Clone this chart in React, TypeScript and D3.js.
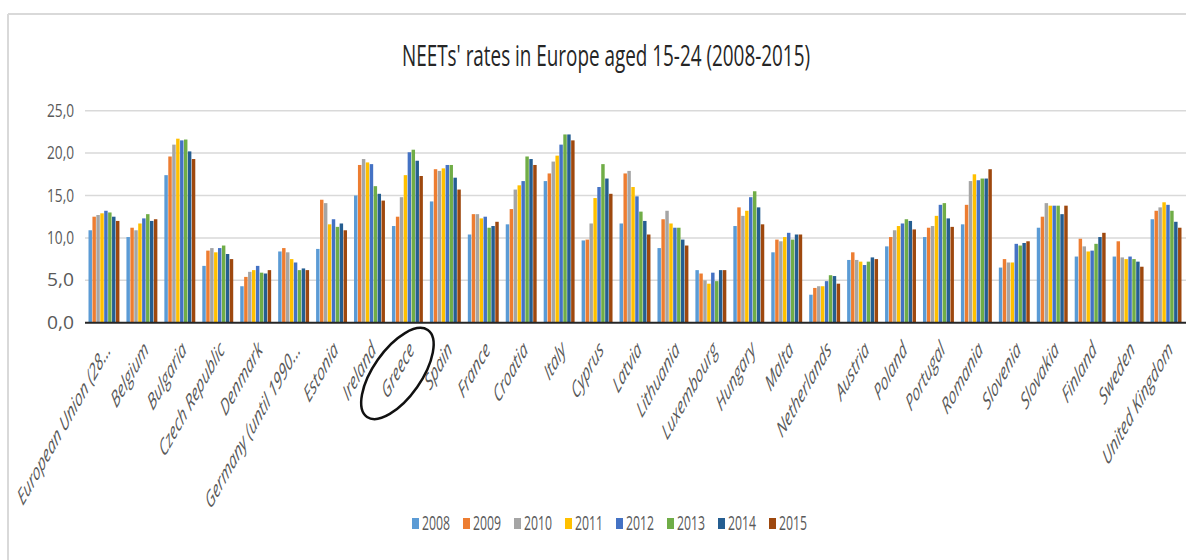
import React from 'react';
import * as d3 from 'd3';

// NEET rates, 15-24
const countries = ['European Union (28...', 'Belgium', 'Bulgaria', 'Czech Republic', 'Denmark', 'Germany (until 1990...',
  'Estonia', 'Ireland', 'Greece', 'Spain', 'France', 'Croatia', 'Italy', 'Cyprus', 'Latvia', 'Lithuania',
  'Luxembourg', 'Hungary', 'Malta', 'Netherlands', 'Austria', 'Poland', 'Portugal', 'Romania', 'Slovenia',
  'Slovakia', 'Finland', 'Sweden', 'United Kingdom'];

const years = ['2008', '2009', '2010', '2011', '2012', '2013', '2014', '2015'];

const v2008 = [10.9, 10.1, 17.4, 6.7, 4.3, 8.4, 8.7, 15.0, 11.4, 14.3, 10.4, 11.6, 16.7, 9.7, 11.7, 8.8, 6.2, 11.4, 8.3, 3.3, 7.4, 9.0, 10.1, 11.6, 6.5, 11.2, 7.8, 7.8, 12.2];
const v2009 = [12.5, 11.2, 19.6, 8.5, 5.4, 8.8, 14.5, 18.6, 12.5, 18.1, 12.8, 13.4, 17.6, 9.8, 17.6, 12.2, 5.8, 13.6, 9.8, 4.1, 8.3, 10.1, 11.2, 13.9, 7.5, 12.5, 9.9, 9.6, 13.2];
const v2010 = [12.7, 10.9, 21.0, 8.8, 6.0, 8.3, 14.1, 19.3, 14.8, 17.9, 12.8, 15.7, 19.0, 11.7, 17.9, 13.2, 5.0, 12.6, 9.6, 4.3, 7.4, 10.9, 11.4, 16.7, 7.1, 14.1, 9.0, 7.7, 13.6];
const v2011 = [12.9, 11.7, 21.7, 8.3, 6.2, 7.5, 11.6, 18.9, 17.4, 18.2, 12.3, 16.2, 19.7, 14.7, 16.0, 11.7, 4.6, 13.2, 10.1, 4.3, 7.2, 11.4, 12.6, 17.5, 7.1, 13.8, 8.4, 7.5, 14.2];
const v2012 = [13.2, 12.3, 21.5, 8.8, 6.7, 7.1, 12.2, 18.7, 20.1, 18.6, 12.5, 16.7, 21.0, 16.0, 14.9, 11.2, 5.9, 14.8, 10.6, 4.9, 6.8, 11.7, 13.9, 16.8, 9.3, 13.8, 8.5, 7.8, 13.9];
const v2013 = [13.0, 12.8, 21.6, 9.1, 5.9, 6.2, 11.3, 16.1, 20.4, 18.6, 11.2, 19.6, 22.2, 18.7, 13.1, 11.2, 4.9, 15.5, 9.8, 5.6, 7.2, 12.2, 14.1, 17.0, 9.1, 13.8, 9.3, 7.5, 13.2];
const v2014 = [12.5, 12.0, 20.2, 8.1, 5.8, 6.4, 11.7, 15.2, 19.1, 17.1, 11.4, 19.3, 22.2, 17.0, 12.0, 9.8, 6.2, 13.6, 10.4, 5.5, 7.7, 12.0, 12.3, 17.0, 9.4, 12.8, 10.1, 7.2, 11.9];
const v2015 = [12.0, 12.2, 19.3, 7.5, 6.2, 6.2, 10.9, 14.4, 17.3, 15.7, 11.9, 18.6, 21.5, 15.2, 10.4, 9.1, 6.2, 11.6, 10.4, 4.6, 7.5, 11.0, 11.3, 18.1, 9.6, 13.8, 10.6, 6.6, 11.2];

const series = [v2008, v2009, v2010, v2011, v2012, v2013, v2014, v2015];
const colors = ['#5B9BD5', '#ED7D31', '#A5A5A5', '#FFC000', '#4472C4', '#70AD47', '#255E91', '#9E480E'];
const yTicks = [0, 5, 10, 15, 20, 25];

const W = 1186, H = 560;
const left = 85, right = 1185, top = 110.7, bottom = 322.7;
const font = '"Open Sans", "DejaVu Sans", sans-serif';
const grey = '#595959';

export default function App() {
  const x = d3.scaleBand().domain(countries).range([left, right]).paddingInner(0.16).paddingOuter(0.08);
  const xi = d3.scaleBand().domain(years).range([0, x.bandwidth()]).padding(0.12);
  const y = d3.scaleLinear().domain([0, 25]).range([bottom, top]);
  const fmt = (d) => d3.format('.1f')(d).replace('.', ',');

  const greeceX = x('Greece') + x.bandwidth() / 2;

  return (
    <svg width={W} height={H} style={{ position: 'absolute', left: 0, top: 0, background: '#fff' }}>
      {/* chart frame */}
      <line x1={8} y1={14} x2={W} y2={14} stroke="#d9d9d9" strokeWidth={2} />
      <line x1={8} y1={14} x2={8} y2={H} stroke="#d9d9d9" strokeWidth={2} />

      <text x={606} y={66} fontFamily={font} fontSize={29} fill="#262626" textAnchor="middle"
        textLength={408} lengthAdjust="spacingAndGlyphs">NEETs' rates in Europe aged 15-24 (2008-2015)</text>

      {yTicks.map(t => (
        <g key={t}>
          {t > 0 && <line x1={left} x2={W} y1={y(t)} y2={y(t)} stroke="#d9d9d9" strokeWidth={1.5} />}
          <text x={47} y={y(t) + 6} fontFamily={font} fontSize={18} fill={grey}
            textLength={27} lengthAdjust="spacingAndGlyphs">{fmt(t)}</text>
        </g>
      ))}

      {countries.map((c, ci) => (
        <g key={c} transform={`translate(${x(c)},0)`}>
          {series.map((s, si) => (
            <rect key={si} x={xi(years[si])} width={xi.bandwidth()} y={y(s[ci])} height={y(0) - y(s[ci])}
              fill={colors[si]} />
          ))}
        </g>
      ))}

      <line x1={left} x2={W} y1={y(0)} y2={y(0)} stroke="#262626" strokeWidth={2} />

      {countries.map(c => (
        <text key={c} transform={`translate(${x(c) + x.bandwidth() / 2 + 5},${bottom + 24}) scale(0.57,1) rotate(-45)`}
          fontFamily={font} fontSize={23} fontStyle="italic" fill={grey} textAnchor="end"
          dominantBaseline="middle">{c}</text>
      ))}

      {/* hand-drawn circle round Greece */}
      <ellipse cx={greeceX - 10} cy={373.5} rx={53} ry={24} fill="none" stroke="#111" strokeWidth={2.5}
        transform={`rotate(-55,${greeceX - 10},373.5)`} />

      {years.map((yr, i) => (
        <g key={yr} transform={`translate(${412 + i * 51},0)`}>
          <rect x={0} y={518} width={7} height={11} fill={colors[i]} />
          <text x={10} y={530} fontFamily={font} fontSize={20} fill={grey}
            textLength={28} lengthAdjust="spacingAndGlyphs">{yr}</text>
        </g>
      ))}
    </svg>
  );
}
